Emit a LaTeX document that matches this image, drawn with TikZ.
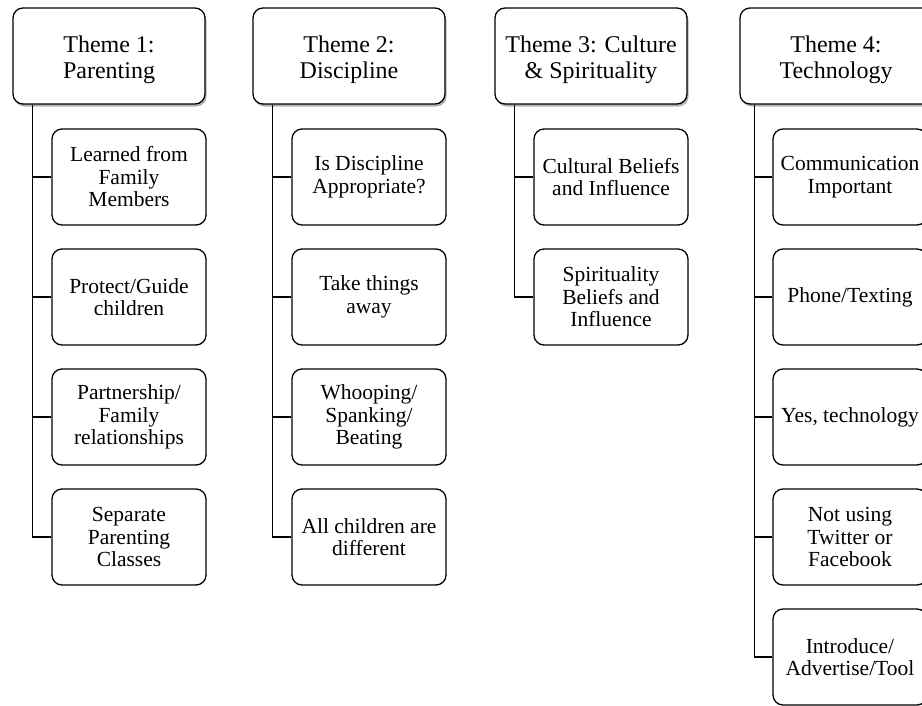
\documentclass[tikz,border=0pt]{standalone}
\usepackage{fontspec}
\setmainfont{Liberation Serif}
\usetikzlibrary{shadows}
\newcommand{\hstrut}{\rule{0pt}{24pt}}
\tikzset{
  headbox/.style={draw, line width=1.3pt, rounded corners=10pt, fill=white,
    minimum width=192pt, minimum height=96pt, align=center, inner sep=2pt,
    font=\fontsize{24}{26.5}\selectfont,
    drop shadow={shadow xshift=1.5pt, shadow yshift=-2.5pt, opacity=0.3, fill=black}},
  childbox/.style={draw, line width=1.3pt, rounded corners=10pt, fill=white,
    minimum width=154pt, minimum height=96pt, align=center, inner sep=2pt,
    font=\fontsize{21.5}{22.5}\selectfont},
  conn/.style={line width=1.3pt}
}
\begin{document}
\begin{tikzpicture}[x=1pt,y=-1pt]
\useasboundingbox (0,0) rectangle (922,705);
\clip (0,0) rectangle (922,705);
% Theme 1
\node[headbox] (h1) at (109,56) {\hstrut Theme 1:\\Parenting};
\node[childbox] (c11) at (129,177) {Learned from\\Family\\Members};
\node[childbox] (c12) at (129,297) {Protect/Guide\\children};
\node[childbox] (c13) at (129,417) {Partnership/\\Family\\relationships};
\node[childbox] (c14) at (129,537) {Separate\\Parenting\\Classes};
% Theme 2
\node[headbox] (h2) at (349,56) {\hstrut Theme 2:\\Discipline};
\node[childbox] (c21) at (369,177) {Is Discipline\\Appropriate?};
\node[childbox] (c22) at (369,297) {Take things\\away};
\node[childbox] (c23) at (369,417) {Whooping/\\Spanking/\\Beating};
\node[childbox] (c24) at (369,537) {All children are\\different};
% Theme 3
\node[headbox] (h3) at (591,56) {\hstrut Theme 3: Culture\\\& Spirituality};
\node[childbox] (c31) at (611,177) {Cultural Beliefs\\and Influence};
\node[childbox] (c32) at (611,297) {Spirituality\\Beliefs and\\Influence};
% Theme 4
\node[headbox] (h4) at (836,56) {\hstrut Theme 4:\\Technology};
\node[childbox] (c41) at (850,177) {Communication\\Important};
\node[childbox] (c42) at (850,297) {Phone/Texting};
\node[childbox] (c43) at (850,417) {Yes, technology};
\node[childbox] (c44) at (850,537) {Not using\\Twitter or\\Facebook};
\node[childbox] (c45) at (850,657) {Introduce/\\Advertise/Tool};
% connectors
\foreach \c in {c11,c12,c13,c14}
  \draw[conn] ([xshift=20pt]h1.south west) |- (\c.west);
\foreach \c in {c21,c22,c23,c24}
  \draw[conn] ([xshift=20pt]h2.south west) |- (\c.west);
\foreach \c in {c31,c32}
  \draw[conn] ([xshift=20pt]h3.south west) |- (\c.west);
\foreach \c in {c41,c42,c43,c44,c45}
  \draw[conn] ([xshift=15pt]h4.south west) |- (\c.west);
\end{tikzpicture}
\end{document}
